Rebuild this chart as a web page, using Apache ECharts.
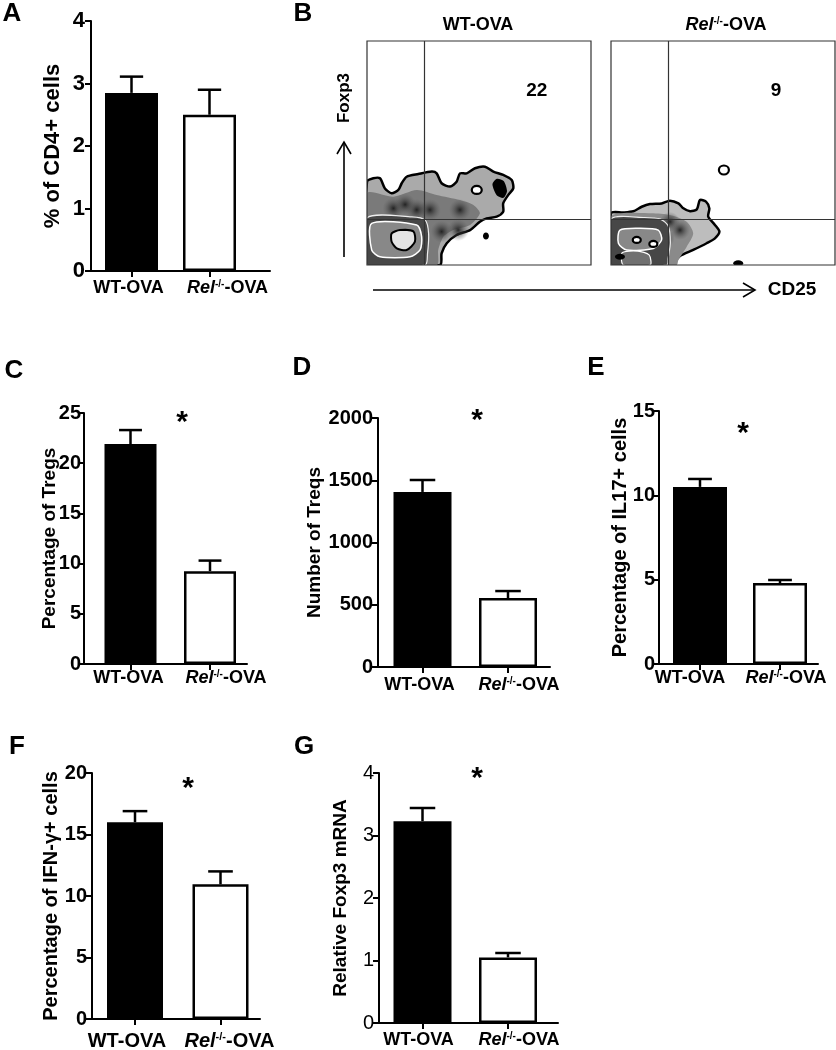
<!DOCTYPE html>
<html><head><meta charset="utf-8">
<script src="https://cdn.jsdelivr.net/npm/echarts@6/dist/echarts.min.js"></script>
<style>html,body{margin:0;padding:0;background:#fff}#c{width:836px;height:1050px}</style>
</head><body><div id="c"></div>
<script>
// ---------- data ----------
const categories = ['WT-OVA', 'Rel-/--OVA'];
const aMean = [2.85, 2.50], aErr = [0.26, 0.40];
const cMean = [21.9, 9.25], cErr = [1.4, 1.05];
const dMean = [1406, 554],  dErr = [96, 56];
const eMean = [10.5, 4.8],  eErr = [0.47, 0.18];
const fMean = [16.0, 10.95], fErr = [0.9, 1.05];
const gMean = [3.23, 1.05], gErr = [0.21, 0.07];
const aAxis = [0, 4, 1], cAxis = [0, 25, 5], dAxis = [0, 2000, 500];
const eAxis = [0, 15, 5], fAxis = [0, 20, 5], gAxis = [0, 4, 1];
const yTitles = ['% of CD4+ cells', 'Percentage of Tregs', 'Number of Treqs',
  'Percentage of IL17+ cells', 'Percentage of IFN-\u03b3+ cells', 'Relative Foxp3 mRNA'];

// flow plot (panel B), arbitrary 0-100 units
const gateX = 25.4, gateY = 20.5;
const wtQuad = 22, relQuad = 9;
const wtQuadPos = [75.8, 77.7], relQuadPos = [73.7, 77.7];
const wtOuter = [[0,37.2],[2.8,38.7],[5.8,38.7],[8.0,34.2],[11.0,32.0],[14.0,33.5],[15.5,36.5],[17.7,39.4],[22.9,40.6],[28.9,41.7],[31.1,40.9],[33.3,36.5],[37.1,35.0],[40.0,37.2],[41.5,40.9],[44.5,40.9],[48.2,43.2],[52.7,43.9],[56.4,41.7],[60.8,40.2],[64.6,37.9],[65.3,34.2],[63.1,31.3],[60.8,27.5],[60.8,23.8],[57.9,21.6],[53.4,20.8],[50.4,19.3],[46.0,15.6],[40.0,13.4],[35.6,9.7],[33.3,5.2],[32.6,0],[0,0]];
const wtMid = [[0,32.0],[11.8,30.5],[22.2,33.5],[31.1,31.3],[41.5,29.0],[47.5,26.8],[50.4,23.1],[46.0,17.9],[38.5,15.6],[34.1,12.6],[31.8,6.7],[31.1,0],[0,0]];
const wtCore = [[0,21],[20,21.5],[26,20],[27.5,14],[27,5],[26,0],[0,0]];
const wtRing = [[2.1,18.6],[22.2,17.9],[24.4,12.6],[23.7,6.7],[19.2,3.7],[5.8,3.7],[2.1,6.7]];
const wtCenter = [[11.0,14.1],[14.7,15.6],[20.7,15.0],[21.4,10.4],[17.7,6.7],[13.3,7.4],[11.0,10.4]];
const wtPatch = [[56,36],[58,38.5],[61,37.5],[62.5,33],[61,30],[58,31]];
const wtSpots = [[28.1,24.6],[41.5,24.6],[33.3,14.9],[40.7,15.6],[22.2,24.6],[11.8,25.3],[17,27]];
const wtDots = [[53.1,12.9]];
const wtIslands = [[49,33.5]];
const relOuter = [[0,23.1],[5.5,23.4],[10.0,24.0],[13.7,26.0],[17.4,27.2],[22.6,27.5],[26.3,28.7],[30.1,27.5],[32.3,25.3],[35.3,24.0],[38.3,24.8],[39.7,29.0],[42.4,28.3],[43.9,25.3],[43.4,21.6],[46.4,17.9],[48.4,14.9],[46.4,11.9],[42.7,9.7],[36.7,6.7],[30.8,4.0],[28.6,1.5],[28.1,0],[0,0]];
const relMid = [[0,21.6],[17.4,23.1],[26.3,22.3],[33.8,19.3],[36.7,14.1],[33.8,8.2],[30.1,2.2],[29.3,0],[0,0]];
const relCore = [[0,20.5],[15,21.2],[22,20.5],[25.5,17.5],[26.5,10],[25.5,3],[25,0],[0,0]];
const relRing = [[4.0,15.6],[12.9,16.4],[21.1,15.6],[22.6,11.2],[18.9,7.4],[7.0,6.7],[3.3,9.7]];
const relRing2 = [[5,5.5],[12,6.2],[17,4.5],[17.5,0],[5.5,0]];
const relSpots = [[26.3,19.3],[30.8,15.6],[24,12]];
const relDots = [[56.8,0.8],[4.0,3.7]];
const relIslands = [[50.4,42.4]];
const relLight = [[11.5,11.2],[18.9,9.4]];

// ---------- layout ----------
const FONT = '"Liberation Sans", Arial, sans-serif';
const panels = [
  {L:'A', mean:aMean, err:aErr, ax:aAxis, name:yTitles[0], left:91, top:21, bottom:271, end:270, c1:131.5, c2:209.5, bw:53, nameGap:27, nameSize:22, tickSize:22, tickWeight:'bold', tickMargin:6, catMargin:8, catSize:18, wtShift:-3, relShift:18},
  {L:'C', mean:cMean, err:cErr, ax:cAxis, name:yTitles[1], left:84, top:413, bottom:664, end:247, c1:130.5, c2:210, bw:52, nameGap:25, nameSize:19, tickSize:20, tickWeight:'bold', tickMargin:3, catMargin:5, catSize:18, wtShift:-2, relShift:16},
  {L:'D', mean:dMean, err:dErr, ax:dAxis, name:yTitles[2], left:378, top:418, bottom:667, end:550, c1:422.5, c2:508, bw:58, nameGap:54, nameSize:19, tickSize:20, tickWeight:'bold', tickMargin:5, catMargin:9, catSize:18, wtShift:-3, relShift:11},
  {L:'E', mean:eMean, err:eErr, ax:eAxis, name:yTitles[3], left:659, top:411, bottom:664, end:818, c1:700, c2:780, bw:54, nameGap:29, nameSize:20, tickSize:20, tickWeight:'bold', tickMargin:4, catMargin:5, catSize:18, wtShift:-10, relShift:6},
  {L:'F', mean:fMean, err:fErr, ax:fAxis, name:yTitles[4], left:92, top:773, bottom:1019, end:260, c1:135, c2:220.5, bw:56, nameGap:31, nameSize:20, tickSize:20, tickWeight:'bold', tickMargin:5, catMargin:12, catSize:20, wtShift:-8, relShift:9},
  {L:'G', mean:gMean, err:gErr, ax:gAxis, name:yTitles[5], left:379, top:773, bottom:1023, end:558, c1:422.5, c2:508, bw:58, nameGap:29, nameSize:19, tickSize:20, tickWeight:'normal', tickMargin:5, catMargin:8, catSize:18, wtShift:-4, relShift:11}
];
const flowBoxes = [{left:367, top:41, size:224}, {left:611, top:41, size:224}];

const grid = [], xAxis = [], yAxis = [], series = [];
const richCat = (p) => ({
  sl:{width:Math.max(0, 2 * p.relShift), fontSize:p.catSize},
  sr:{width:Math.max(0, -2 * p.wtShift), fontSize:p.catSize},
  i:{fontStyle:'italic', fontWeight:'bold', fontSize:p.catSize, fontFamily:FONT, color:'#000'},
  s:{fontWeight:'bold', fontSize:Math.round(p.catSize*0.55), fontFamily:FONT, verticalAlign:'top', color:'#000'},
  n:{fontWeight:'bold', fontSize:p.catSize, fontFamily:FONT, color:'#000'}
});

panels.forEach((p, k) => {
  const unit = p.c2 - p.c1;
  grid.push({left:p.left, top:p.top, width:p.end - p.left, height:p.bottom - p.top, containLabel:false, outerBoundsMode:'none'});
  xAxis.push({gridIndex:k, type:'value', min:1 - (p.c1 - p.left)/unit, max:2 + (p.end - p.c2)/unit,
    axisLine:{show:true, onZero:false, lineStyle:{color:'#000', width:2}},
    axisTick:{show:true, customValues:[1,2], length:6, lineStyle:{color:'#000', width:2}},
    axisLabel:{show:true, customValues:[1,2], margin:p.catMargin, fontSize:p.catSize, fontWeight:'bold', fontFamily:FONT, color:'#000',
      formatter:(v) => v === 1 ? '{n|' + categories[0] + '}{sr|}' : '{sl|}{i|Rel}{s|-/-}{n|-OVA}', rich:richCat(p)},
    splitLine:{show:false}});
  yAxis.push({gridIndex:k, type:'value', min:p.ax[0], max:p.ax[1], interval:p.ax[2],
    axisLine:{show:true, onZero:false, lineStyle:{color:'#000', width:2}},
    axisTick:{show:true, length:6, lineStyle:{color:'#000', width:2}},
    axisLabel:{fontSize:p.tickSize, fontWeight:p.tickWeight, fontFamily:FONT, color:'#000', margin:p.tickMargin, formatter:(v) => String(v)},
    splitLine:{show:false},
    name:p.name, nameLocation:'middle', nameGap:p.nameGap, nameMoveOverlap:false,
    nameTextStyle:{fontSize:p.nameSize, fontWeight:'bold', fontFamily:FONT, color:'#000'}});
  series.push({type:'bar', xAxisIndex:k, yAxisIndex:k, barWidth:p.bw,
    data:[{value:[1, p.mean[0]], itemStyle:{color:'#000'}},
          {value:[2, p.mean[1]], itemStyle:{color:'#fff', borderColor:'#000', borderWidth:2.5}}]});
  series.push({type:'custom', xAxisIndex:k, yAxisIndex:k, z:3,
    data:[[1, p.mean[0], p.err[0]], [2, p.mean[1], p.err[1]]],
    renderItem:(params, api) => {
      const x = api.value(0), m = api.value(1), e = api.value(2);
      const a = api.coord([x, m]), b = api.coord([x, m + e]);
      const hw = p.bw * 0.22;
      const st = {stroke:'#000', lineWidth:2.5};
      return {type:'group', children:[
        {type:'line', shape:{x1:a[0], y1:a[1], x2:b[0], y2:b[1]}, style:st},
        {type:'line', shape:{x1:b[0]-hw, y1:b[1], x2:b[0]+hw, y2:b[1]}, style:st}]};
    }});
});

// flow plots
const spotFill = {type:'radial', x:0.5, y:0.5, r:0.5, colorStops:[{offset:0, color:'rgba(25,25,25,0.9)'}, {offset:1, color:'rgba(90,90,90,0)'}]};
const wtShapes = [
  {pts:wtOuter, fill:'#aaaaaa', stroke:'#000', lw:2.5},
  {pts:wtMid, fill:'#7a7a7a'},
  ...wtSpots.map(c => ({spot:c, r:11})),
  {pts:wtCore, fill:'#474747', stroke:'#eee', lw:1.2},
  {pts:wtRing, fill:'#888', stroke:'#fff', lw:1.5},
  {pts:wtCenter, fill:'#e4e4e4', stroke:'#000', lw:2},
  {pts:wtPatch, fill:'#000'},
  ...wtDots.map(c => ({dot:c, rx:3, ry:3.5})),
  ...wtIslands.map(c => ({island:c, rx:5, ry:4})),
  {frame:true}
];
const relShapes = [
  {pts:relOuter, fill:'#bdbdbd', stroke:'#000', lw:2.5},
  {pts:relMid, fill:'#8a8a8a'},
  ...relSpots.map(c => ({spot:c, r:10})),
  {pts:relCore, fill:'#474747', stroke:'#eee', lw:1.2},
  {pts:relRing, fill:'#888', stroke:'#fff', lw:1.5},
  {pts:relRing2, fill:'#707070', stroke:'#fff', lw:1.2},
  ...relLight.map(c => ({island:c, rx:4, ry:3})),
  ...relDots.map(c => ({dot:c, rx:5, ry:3})),
  ...relIslands.map(c => ({island:c, rx:5, ry:4.5})),
  {frame:true}
];
function flowRender(shapes) {
  return (params, api) => {
    const s = shapes[params.dataIndex];
    const cs = params.coordSys;
    let el;
    if (s.frame) {
      return {type:'rect', shape:{x:cs.x, y:cs.y, width:cs.width, height:cs.height}, style:{fill:'none', stroke:'#333', lineWidth:1.2}};
    } else if (s.pts) {
      el = {type:'polygon', shape:{points:s.pts.map(q => api.coord(q)), smooth:0.25},
        style:{fill:s.fill, stroke:s.stroke || null, lineWidth:s.lw || 0}};
    } else if (s.spot) {
      const c = api.coord(s.spot);
      el = {type:'circle', shape:{cx:c[0], cy:c[1], r:s.r}, style:{fill:spotFill}};
    } else if (s.dot) {
      const c = api.coord(s.dot);
      el = {type:'ellipse', shape:{cx:c[0], cy:c[1], rx:s.rx, ry:s.ry}, style:{fill:'#000'}};
    } else {
      const c = api.coord(s.island);
      el = {type:'ellipse', shape:{cx:c[0], cy:c[1], rx:s.rx, ry:s.ry}, style:{fill:'#fff', stroke:'#000', lineWidth:2.2}};
    }
    return {type:'group', children:[el], clipPath:{type:'rect', shape:{x:cs.x, y:cs.y, width:cs.width, height:cs.height}}};
  };
}
[[wtShapes, wtQuad, wtQuadPos], [relShapes, relQuad, relQuadPos]].forEach((f, j) => {
  const k = panels.length + j, b = flowBoxes[j];
  grid.push({left:b.left, top:b.top, width:b.size, height:b.size, outerBoundsMode:'none'});
  xAxis.push({gridIndex:k, type:'value', min:0, max:100, show:false});
  yAxis.push({gridIndex:k, type:'value', min:0, max:100, show:false});
  series.push({type:'custom', xAxisIndex:k, yAxisIndex:k, data:f[0].map((s, i) => [i]), renderItem:flowRender(f[0])});
  series.push({type:'scatter', xAxisIndex:k, yAxisIndex:k, z:4, symbolSize:1, itemStyle:{opacity:0},
    data:[f[2].concat([f[1]])],
    label:{show:true, position:'inside', formatter:(d) => String(d.value[2]), fontSize:19, fontWeight:'bold', fontFamily:FONT, color:'#000', opacity:1},
    markLine:{silent:true, symbol:'none', label:{show:false}, lineStyle:{color:'#333', width:1.2, type:'solid', opacity:1},
      data:[{xAxis:gateX}, {yAxis:gateY}]}});
});

const txt = (x, y, text, size, extra) => Object.assign({type:'text', x:x, y:y,
  style:{text:text, fontSize:size, fontWeight:'bold', fontFamily:FONT, fill:'#000', align:'center', verticalAlign:'middle'}}, extra || {});
const graphic = [
  txt(12, 14, 'A', 26), txt(303, 14, 'B', 26), txt(14, 371, 'C', 26), txt(302, 368, 'D', 26),
  txt(596, 368, 'E', 26), txt(17, 747, 'F', 26), txt(304, 747, 'G', 26),
  txt(182, 423, '*', 30), txt(477, 421, '*', 30), txt(743, 434, '*', 30), txt(188, 789, '*', 30), txt(477, 779, '*', 30),
  txt(478, 25, 'WT-OVA', 18),
  {type:'text', x:726, y:25, style:{text:'{i|Rel}{s|-/-}{n|-OVA}', rich:{
    i:{fontStyle:'italic', fontWeight:'bold', fontSize:18, fontFamily:FONT},
    s:{fontWeight:'bold', fontSize:10, fontFamily:FONT, verticalAlign:'top'},
    n:{fontWeight:'bold', fontSize:18, fontFamily:FONT}}, align:'center', verticalAlign:'middle', fill:'#000'}},
  txt(344, 98, 'Foxp3', 17, {rotation:Math.PI/2}),
  txt(792, 290, 'CD25', 19),
  {type:'polyline', shape:{points:[[344,257],[344,142]]}, style:{stroke:'#000', lineWidth:1.6, fill:null}},
  {type:'polyline', shape:{points:[[337,154],[344,142],[351,154]]}, style:{stroke:'#000', lineWidth:1.6, fill:null}},
  {type:'polyline', shape:{points:[[373,290],[755,290]]}, style:{stroke:'#000', lineWidth:1.6, fill:null}},
  {type:'polyline', shape:{points:[[743,283],[755,290],[743,297]]}, style:{stroke:'#000', lineWidth:1.6, fill:null}}
];

const chart = echarts.init(document.getElementById('c'), null, {renderer:'canvas'});
chart.setOption({backgroundColor:'#fff', animation:false, grid, xAxis, yAxis, series, graphic});
</script></body></html>
